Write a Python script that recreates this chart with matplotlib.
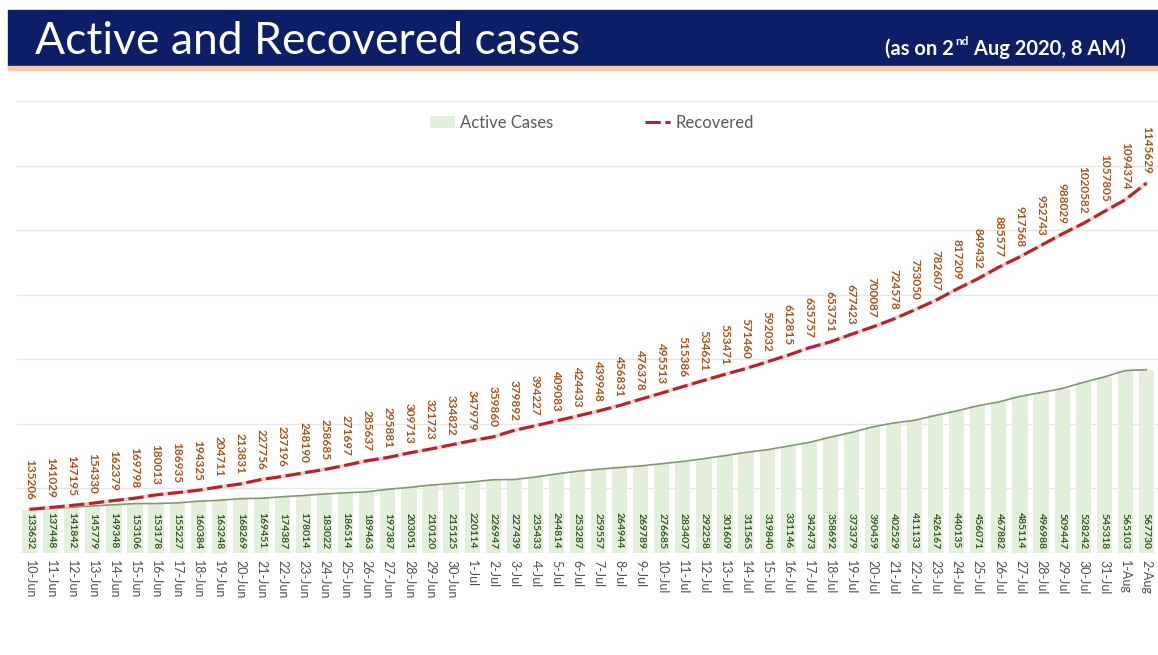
import matplotlib
matplotlib.use("Agg")
import matplotlib.pyplot as plt
from matplotlib.patches import Rectangle

# ---------------------------------------------------------------------------
# Data
# ---------------------------------------------------------------------------
dates = (
    [f"{d}-Jun" for d in range(10, 31)]
    + [f"{d}-Jul" for d in range(1, 32)]
    + ["1-Aug", "2-Aug"]
)

active = [
    133632, 137448, 141842, 145779, 149348, 153106, 153178, 155227, 160384,
    163248, 168269, 169451, 174387, 178014, 183022, 186514, 189463, 197387,
    203051, 210120, 215125,
    220114, 226947, 227439, 235433, 244814, 253287, 259557, 264944, 269789,
    276685, 283407, 292258, 301609, 311565, 319840, 331146, 342473, 358692,
    373379, 390459, 402529, 411133, 426167, 440135, 456071, 467882, 485114,
    496988, 509447, 528242, 545318,
    565103, 567730,
]

recovered = [
    135206, 141029, 147195, 154330, 162379, 169798, 180013, 186935, 194325,
    204711, 213831, 227756, 237196, 248190, 258685, 271697, 285637, 295881,
    309713, 321723, 334822,
    347979, 359860, 379892, 394227, 409083, 424433, 439948, 456831, 476378,
    495513, 515386, 534621, 553471, 571460, 592032, 612815, 635757, 653751,
    677423, 700087, 724578, 753050, 782607, 817209, 849432, 885577, 917568,
    952743, 988029, 1020582, 1057805,
    1094374, 1145629,
]

NAVY = "#0c1f66"
BAR_GREEN = "#e2efda"
LABEL_GREEN = "#385723"
LINE_RED = "#b8232a"
LABEL_ORANGE = "#a8521c"
GREY = "#505050"

W, H = 1158, 655
fig = plt.figure(figsize=(W / 100, H / 100), dpi=100)

# header band
fig.patches.append(Rectangle((8 / W, 1 - 66 / H), 1, 56 / H,
                             transform=fig.transFigure, color=NAVY, zorder=0))
fig.patches.append(Rectangle((8 / W, 1 - 70 / H), 1, 4 / H,
                             transform=fig.transFigure, color="#f8cbad", zorder=0))
fig.text(35 / W, 1 - 54 / H, "Active and Recovered cases", color="white",
         fontsize=32, family="Lato", va="baseline")

# "(as on 2nd Aug 2020, 8 AM)" with a raised "nd"
sub_kw = dict(color="white", family="Lato", weight="bold", va="baseline")
t1 = fig.text(885 / W, 1 - 55 / H, "(as on 2", fontsize=14.5, **sub_kw)
fig.canvas.draw()
x1 = t1.get_window_extent().x1
t2 = fig.text((x1 + 1) / W, 1 - 45 / H, "nd", fontsize=8.5, **sub_kw)
fig.canvas.draw()
x2 = t2.get_window_extent().x1
fig.text((x2 + 1) / W, 1 - 55 / H, " Aug 2020, 8 AM)", fontsize=14.5, **sub_kw)

# chart
ax = fig.add_axes([17 / W, 1 - 553 / H, 1 - 17 / W, 452 / H])
x = list(range(len(dates)))

bars = ax.bar(x, active, width=0.72, color=BAR_GREEN, zorder=2,
              label="Active Cases")
ax.plot(x, active, color="#7f9a72", lw=1.2, zorder=3)
ax.plot(x, recovered, color="#f1d0cc", lw=2.6, zorder=4)
rec_line, = ax.plot(x, recovered, color=LINE_RED, lw=2.2, ls=(0, (5, 1.5)),
                    zorder=5, label="Recovered")

for xi, v in zip(x, active):
    ax.annotate(str(v), (xi, 0), xytext=(0, 3), textcoords="offset points",
                rotation=270, ha="center", va="bottom", fontsize=7.5,
                family="Lato", weight="bold", color=LABEL_GREEN, zorder=6)

for xi, v in zip(x, recovered):
    ax.annotate(str(v), (xi, v), xytext=(0, 7), textcoords="offset points",
                rotation=270, ha="center", va="bottom", fontsize=8.5,
                family="Lato", weight="bold", color=LABEL_ORANGE, zorder=6)

ax.set_xlim(-0.6, len(dates) - 0.45)
ax.set_ylim(0, 1400000)
ax.set_yticks(range(0, 1400001, 200000))
ax.set_yticklabels([])
ax.tick_params(axis="y", length=0)
ax.grid(axis="y", color="#e6e6e6", lw=1.0, zorder=0)
ax.set_axisbelow(True)

ax.set_xticks(x)
ax.set_xticklabels(dates, rotation=270, fontsize=9, family="Lato",
                   color=GREY)
ax.tick_params(axis="x", length=0, pad=5)
for s in ax.spines.values():
    s.set_visible(False)

fig.legend(handles=[bars, rec_line], labels=["Active Cases", "Recovered"],
           loc="center", bbox_to_anchor=(592 / W, 1 - 123 / H), ncol=2,
           frameon=False, prop={"family": "Lato", "size": 12},
           labelcolor="#595959", columnspacing=5.5, handlelength=1.5,
           handletextpad=0.3)

fig.savefig("out.png", dpi=100)
